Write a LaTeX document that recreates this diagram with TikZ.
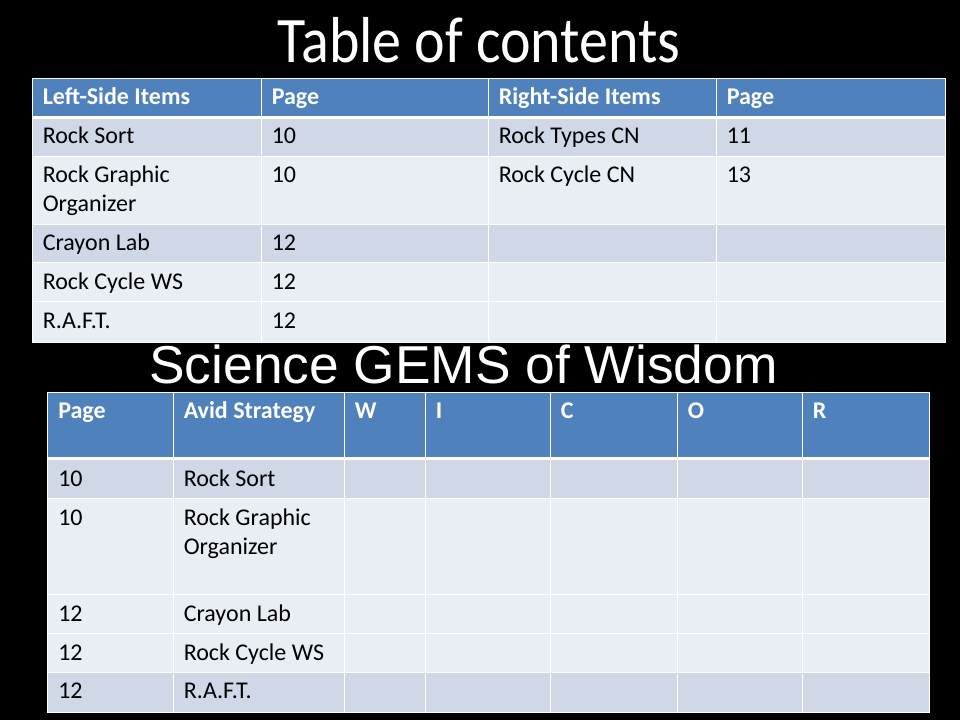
\documentclass[tikz,border=0pt]{standalone}
\usepackage{fontspec}
\setmainfont{Carlito}
\newfontfamily\arialf{Liberation Sans}
\definecolor{hdr}{HTML}{4F81BD}
\definecolor{dk}{HTML}{D0D8E8}
\definecolor{lt}{HTML}{E9EDF4}
\tikzset{
  gridline/.style={white, line width=0.75pt},
  sepline/.style={white, line width=2.25pt},
  cell/.style={anchor=base west, inner sep=0pt, text=black, font=\fontsize{18}{21.75}\selectfont},
  hd/.style={anchor=base west, inner sep=0pt, text=white, font=\fontsize{18}{21.75}\selectfont\bfseries}
}
\begin{document}
\begin{tikzpicture}[x=0.75pt,y=-0.75pt]
\fill[black] (0,0) rectangle (960,720);
\useasboundingbox (0,0) rectangle (960,720);

% Title
\node[anchor=base, inner sep=0pt, text=white, font=\fontsize{43.5}{50}\selectfont] (title) at (479,63) {\scalebox{1}[1.12]{Table of contents}};

% Top table
\fill[hdr] (32,79) rectangle (945,117.5);
\fill[dk] (32,117.5) rectangle (945,157);
\fill[lt] (32,157) rectangle (945,225);
\fill[dk] (32,225) rectangle (945,263);
\fill[lt] (32,263) rectangle (945,342);
\foreach \y in {157,225,263,302} \draw[gridline] (32,\y) -- (945,\y);
\foreach \x in {261,488,716} \draw[gridline] (\x,79) -- (\x,342);
\draw[gridline] (32,79) rectangle (945,342);
\draw[sepline] (32,117.5) -- (945,117.5);

\node[hd] (ta1) at (42.5,105) {Left-Side Items};
\node[hd] (ta2) at (271.5,105) {Page};
\node[hd] (ta3) at (498.5,105) {Right-Side Items};
\node[hd] (ta4) at (726.5,105) {Page};

\node[cell] (tb1) at (42.5,144) {Rock Sort};
\node[cell] (tb2) at (271.5,144) {10};
\node[cell] (tb3) at (498.5,144) {Rock Types CN};
\node[cell] (tb4) at (726.5,144) {11};

\node[cell] (tc1) at (42.5,183) {Rock Graphic};
\node[cell] (tc1b) at (42.5,212) {Organizer};
\node[cell] (tc2) at (271.5,183) {10};
\node[cell] (tc3) at (498.5,183) {Rock Cycle CN};
\node[cell] (tc4) at (726.5,183) {13};

\node[cell] (td1) at (42.5,251) {Crayon Lab};
\node[cell] (td2) at (271.5,251) {12};
\node[cell] (te1) at (42.5,290) {Rock Cycle WS};
\node[cell] (te2) at (271.5,290) {12};
\node[cell] (tf1) at (42.5,328) {R.A.F.T.};
\node[cell] (tf2) at (271.5,328) {12};

% Subtitle
\node[anchor=base west, inner sep=0pt, text=white, font=\arialf\fontsize{40}{46}\selectfont] (sub) at (149,383) {Science GEMS of Wisdom};

% Bottom table
\fill[hdr] (47,392) rectangle (929,458.5);
\fill[dk] (47,458.5) rectangle (929,498);
\fill[lt] (47,498) rectangle (929,672);
\fill[dk] (47,672) rectangle (929,712);
\foreach \y in {498,594,633,672} \draw[gridline] (47,\y) -- (929,\y);
\foreach \x in {173,344,425,550,677,802} \draw[gridline] (\x,392) -- (\x,712);
\draw[gridline] (47,392) rectangle (929,712);
\draw[sepline] (47,458.5) -- (929,458.5);

\node[hd] (ba1) at (58,418) {Page};
\node[hd] (ba2) at (183.5,418) {Avid Strategy};
\node[hd] (ba3) at (354.5,418) {W};
\node[hd] (ba4) at (435.5,418) {I};
\node[hd] (ba5) at (560.5,418) {C};
\node[hd] (ba6) at (687.5,418) {O};
\node[hd] (ba7) at (812.5,418) {R};

\node[cell] (bb1) at (58,486) {10};
\node[cell] (bb2) at (183.5,486) {Rock Sort};
\node[cell] (bc1) at (58,525) {10};
\node[cell] (bc2) at (183.5,525) {Rock Graphic};
\node[cell] (bc2b) at (183.5,554) {Organizer};
\node[cell] (bd1) at (58,621) {12};
\node[cell] (bd2) at (183.5,621) {Crayon Lab};
\node[cell] (be1) at (58,660) {12};
\node[cell] (be2) at (183.5,660) {Rock Cycle WS};
\node[cell] (bf1) at (58,698) {12};
\node[cell] (bf2) at (183.5,698) {R.A.F.T.};
\end{tikzpicture}
\end{document}
